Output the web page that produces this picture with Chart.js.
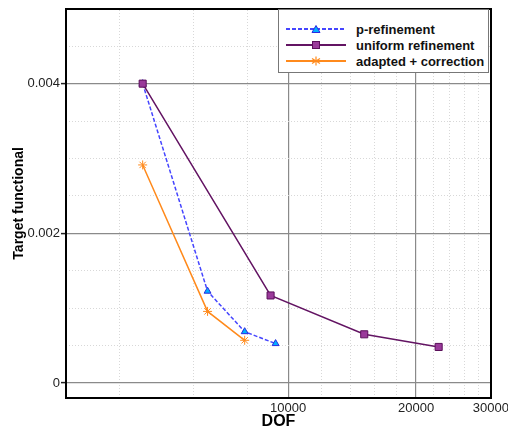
<!DOCTYPE html>
<html>
<head>
<meta charset="utf-8">
<script src="https://cdn.jsdelivr.net/npm/chart.js@4/dist/chart.umd.min.js"></script>
<style>
  html, body { margin: 0; padding: 0; background: #fff; overflow: hidden; }
  #wrap { position: relative; width: 508px; height: 429px; overflow: hidden; }
  #legend {
    position: absolute; left: 278px; top: 9px; width: 209px; height: 62px;
    border: 1px solid #777; background: #fff;
    font: bold 13px "Liberation Sans", Arial, sans-serif; color: #111;
  }
  .row { position: absolute; left: 0; height: 16px; display: flex; align-items: center; }
  .row svg { margin-left: 7px; margin-right: 10px; }
</style>
</head>
<body>
<div id="wrap">
  <canvas id="dofChart" width="512" height="429"></canvas>
  <div id="legend"></div>
</div>
<script>
// Target functional vs DOF (log x axis)
const dofP = [4545, 6460, 7900, 9340];
const valP = [0.0040, 0.001227, 0.000686, 0.000527];

const dofU = [4545, 9090, 15100, 22600];
const valU = [0.0040, 0.00117, 0.000651, 0.000482];

const dofA = [4545, 6460, 7900];
const valA = [0.002914, 0.000957, 0.000571];

const xMajor = [10000, 20000, 30000];
const xMinor = [4000, 6000, 8000, 12000, 14000, 16000, 18000, 22000, 24000, 26000, 28000];
const yMajor = [0, 0.002, 0.004];
const yMinor = [0.0005, 0.001, 0.0015, 0.0025, 0.003, 0.0035, 0.0045];

const toPts = (xs, ys) => xs.map((x, i) => ({ x: x, y: ys[i] }));

const series = [
  { label: 'p-refinement', data: toPts(dofP, valP), borderColor: '#4545ff', borderDash: [4, 2],
    pointStyle: 'triangle', pointRadius: 4, pointBackgroundColor: '#00b0ff', pointBorderColor: '#2a2ae0', order: 1 },
  { label: 'uniform refinement', data: toPts(dofU, valU), borderColor: '#631463', borderDash: [],
    pointStyle: 'rect', pointRadius: 5, pointBackgroundColor: '#9a3a9a', pointBorderColor: '#5a0f5a', order: 0 },
  { label: 'adapted + correction', data: toPts(dofA, valA), borderColor: '#ff8a1c', borderDash: [],
    pointStyle: 'star', pointRadius: 4.5, pointBackgroundColor: '#ff8a1c', pointBorderColor: '#ff8a1c', order: 2 }
];

const fontFam = '"Liberation Sans", Arial, sans-serif';

const ctx = document.getElementById('dofChart').getContext('2d');
const dofChart = new Chart(ctx, {
  type: 'line',
  data: {
    datasets: series.map(s => Object.assign({ borderWidth: 1.5, pointBorderWidth: 1, tension: 0, fill: false }, s))
  },
  options: {
    responsive: false,
    animation: false,
    layout: { padding: { top: 7, right: 21, bottom: 0, left: 0 } },
    plugins: { legend: { display: false }, tooltip: { enabled: false } },
    scales: {
      x: {
        type: 'logarithmic', position: 'bottom', min: 3000, max: 30000,
        afterBuildTicks: sc => { sc.ticks = xMajor.map(v => ({ value: v })); },
        afterFit: sc => { sc.height = 31; },
        grid: { color: c => (c.tick && c.tick.value < 30000 ? '#8a8a8a' : 'rgba(0,0,0,0)'), lineWidth: 1.2, drawTicks: false },
        border: { display: true, color: '#000', width: 2 },
        ticks: { callback: v => String(v), padding: 3, color: '#222', font: { family: fontFam, size: 13 }, maxRotation: 0, autoSkip: false },
        title: { display: true, text: 'DOF', color: '#000', padding: { top: 0, bottom: -2.5 }, font: { family: fontFam, size: 16, weight: 'bold' } }
      },
      xm: {
        type: 'logarithmic', position: 'top', min: 3000, max: 30000,
        afterBuildTicks: sc => { sc.ticks = xMinor.map(v => ({ value: v })); },
        afterFit: sc => { sc.height = 0; },
        grid: { color: '#d8d8d8', lineWidth: 1, drawTicks: false },
        border: { display: true, color: '#000', width: 2, dash: [1, 2] },
        ticks: { display: false }
      },
      y: {
        type: 'linear', position: 'left', min: -0.0002, max: 0.005,
        afterBuildTicks: sc => { sc.ticks = yMajor.map(v => ({ value: v })); },
        afterFit: sc => { sc.width = 66; },
        grid: { color: '#8a8a8a', lineWidth: 1.2, tickLength: 5, tickColor: '#222', tickWidth: 1.5 },
        border: { display: true, color: '#000', width: 2 },
        ticks: { callback: v => String(v), padding: 1, color: '#222', font: { family: fontFam, size: 13 } },
        title: { display: true, text: 'Target functional', color: '#000', padding: { top: 10.6, bottom: 0 }, font: { family: fontFam, size: 14, weight: 'bold' } }
      },
      ym: {
        type: 'linear', position: 'right', min: -0.0002, max: 0.005,
        afterBuildTicks: sc => { sc.ticks = yMinor.map(v => ({ value: v })); },
        afterFit: sc => { sc.width = 0; },
        grid: { color: '#d8d8d8', lineWidth: 1, drawTicks: false },
        border: { display: true, color: '#000', width: 2, dash: [1, 2] },
        ticks: { display: false }
      }
    }
  }
});

// HTML legend built from the datasets
const legendEl = document.getElementById('legend');
const markerSvg = s => {
  const c = 'fill="' + s.pointBackgroundColor + '" stroke="' + s.pointBorderColor + '" stroke-width="1"';
  if (s.pointStyle === 'triangle') return '<polygon points="30,3.5 34,10.5 26,10.5" ' + c + '/>';
  if (s.pointStyle === 'rect') return '<rect x="26.5" y="3.5" width="7" height="7" ' + c + '/>';
  return '<g stroke="' + s.pointBorderColor + '" stroke-width="1.2"><line x1="30" y1="2.5" x2="30" y2="11.5"/>' +
    '<line x1="26" y1="4.5" x2="34" y2="9.5"/><line x1="26" y1="9.5" x2="34" y2="4.5"/></g>';
};
series.forEach((s, i) => {
  const row = document.createElement('div');
  row.className = 'row';
  row.style.top = (11 + i * 16) + 'px';
  const dash = s.borderDash.length ? ' stroke-dasharray="' + s.borderDash.join(',') + '"' : '';
  row.innerHTML = '<svg width="60" height="14"><line x1="0" y1="7" x2="60" y2="7" stroke="' + s.borderColor +
    '" stroke-width="1.8"' + dash + '/>' + markerSvg(s) + '</svg><span>' + s.label + '</span>';
  legendEl.appendChild(row);
});
</script>
</body>
</html>
